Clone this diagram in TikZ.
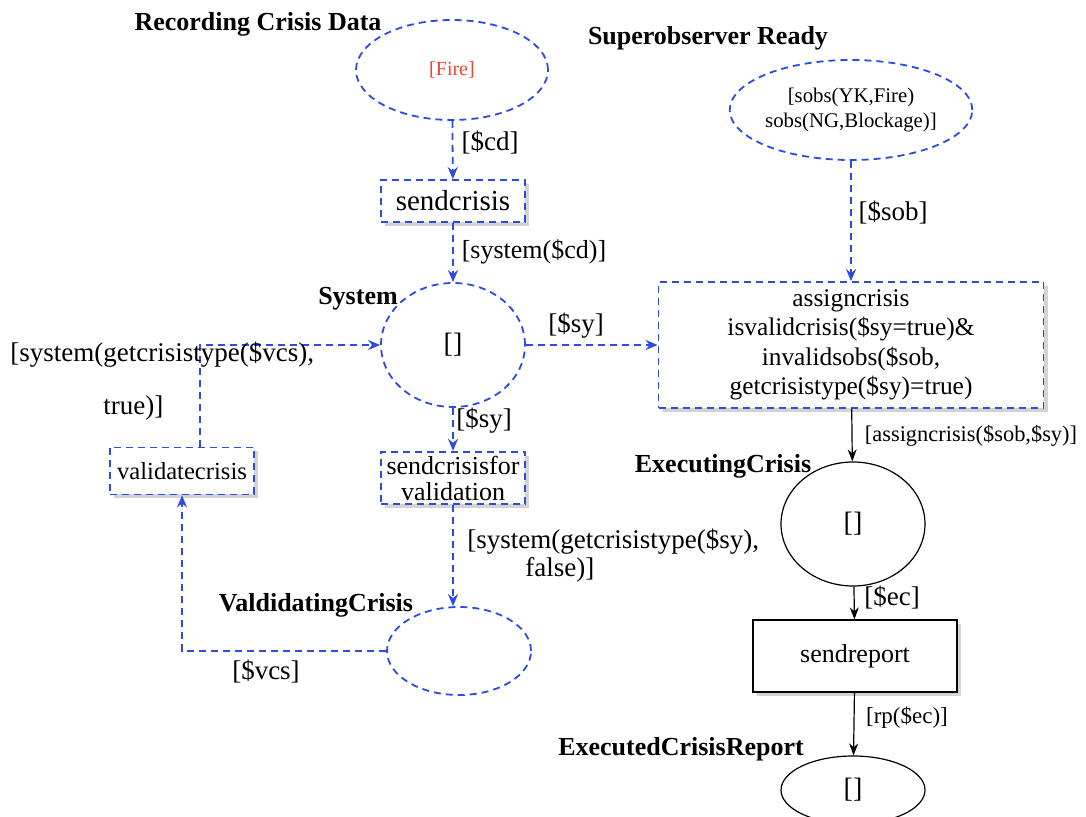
\documentclass[tikz,border=0pt]{standalone}
\usepackage{fontspec}
\setmainfont{Liberation Serif}
\usepackage{tikz}
\usetikzlibrary{arrows.meta}
\usetikzlibrary{shapes.geometric}
\usetikzlibrary{shadows}

\definecolor{NetBlue}{RGB}{45,75,225}
\definecolor{TokenRed}{RGB}{228,72,45}

\tikzset{
    bluedash/.style = {draw = NetBlue, dash pattern = on 3.5pt off 2.5pt, line width = 0.9pt},
    place/.style = {ellipse, draw, inner sep = 0pt},
    trans/.style = {rectangle, draw, fill = white, align = center, inner sep = 2pt,
        font = \fontsize{13}{14.75}\selectfont,
        drop shadow = {shadow xshift = 2pt, shadow yshift = -2pt, opacity = 0.35}},
    flow/.style = {NetBlue, dash pattern = on 3.5pt off 2.5pt, line width = 0.9pt,
        -{Stealth[length = 6pt, width = 5pt]}},
    arc/.style = {black, line width = 0.6pt, -{Stealth[length = 6pt, width = 4.5pt]}},
    lbl/.style = {inner sep = 0pt, font = \fontsize{13.5}{14}\selectfont},
    title/.style = {inner sep = 0pt, font = \bfseries\fontsize{13}{15}\selectfont}
}

\begin{document}
\begin{tikzpicture}[x = 0.5pt, y = -0.5pt]
    \useasboundingbox (0, 0) rectangle (1086, 817);

    % places
    \node [place, bluedash, minimum width = 96pt, minimum height = 50pt,
        font = \fontsize{10}{12}\selectfont, text = TokenRed] (fire) at (452, 70) {[Fire]};
    \node [place, bluedash, minimum width = 100pt, minimum height = 50pt, align = center,
        font = \fontsize{10.4}{12.5}\selectfont] (super) at (851, 110)
        {[sobs(YK,Fire)\\sobs(NG,Blockage)]};
    \node [place, bluedash, minimum width = 72pt, minimum height = 62pt,
        font = \fontsize{14}{16}\selectfont] (system) at (453, 345) {[]};
    \node [place, bluedash, minimum width = 72pt, minimum height = 44pt] (vd) at (459, 651) {};
    \node [place, line width = 0.6pt, minimum width = 72pt, minimum height = 62pt,
        font = \fontsize{14}{16}\selectfont] (exec) at (853, 524) {[]};
    \node [place, line width = 0.6pt, minimum width = 72pt, minimum height = 34pt,
        font = \fontsize{14}{16}\selectfont] (report) at (853, 790) {[]};

    % transitions
    \node [trans, bluedash, minimum width = 72pt, minimum height = 21pt,
        font = \fontsize{14.5}{16}\selectfont] (sendcrisis) at (453, 201) {sendcrisis};
    \node [trans, bluedash, minimum width = 192.5pt, minimum height = 63pt,
        font = \fontsize{12.7}{14.75}\selectfont] (assign) at (851, 345)
        {assigncrisis\\isvalidcrisis(\$sy=true)\&\\invalidsobs(\$sob,\\getcrisistype(\$sy)=true)};
    \node [trans, bluedash, minimum width = 72pt, minimum height = 23.5pt,
        font = \fontsize{13}{13}\selectfont] (sendval) at (453, 478) {sendcrisisfor\\validation};
    \node [trans, bluedash, minimum width = 72pt, minimum height = 23.5pt,
        font = \fontsize{12.3}{14}\selectfont] (validate) at (182, 471) {validatecrisis};
    \node [trans, line width = 0.6pt, minimum width = 102pt, minimum height = 36pt]
        (sendreport) at (855, 656) {sendreport};

    % place titles
    \node [title] (trecord) at (258, 24) {Recording Crisis Data};
    \node [title] (tsuper) at (708, 38) {Superobserver Ready};
    \node [title] (tsystem) at (358, 299) {System};
    \node [title] (tvd) at (316, 605) {ValdidatingCrisis};
    \node [title] (texec) at (723, 466) {ExecutingCrisis};
    \node [title] (treport) at (681, 749) {ExecutedCrisisReport};

    % arcs
    \draw [flow] (fire) -- (sendcrisis);
    \draw [flow] (sendcrisis) -- (system);
    \draw [flow] (system) -- (assign);
    \draw [flow] (super) -- (assign);
    \draw [flow] (system) -- (sendval);
    \draw [flow] (sendval.south) -- (sendval.south |- vd.north);
    \draw [flow] (vd.west) -| (validate.south);
    \draw [flow] ([xshift = 9pt] validate.north) |- (system.west);
    \draw [arc] (assign) -- (exec);
    \draw [arc] (exec) -- (sendreport);
    \draw [arc] (sendreport) -- (report);

    % arc inscriptions
    \node [lbl] (lcd) at (490, 143) {[\$cd]};
    \node [lbl, font = \fontsize{13}{14}\selectfont] (lsyscd) at (534, 252) {[system(\$cd)]};
    \node [lbl] (lsy) at (576, 326) {[\$sy]};
    \node [lbl] (lsob) at (893, 213) {[\$sob]};
    \node [lbl] (lsyval) at (484, 421) {[\$sy]};
    \node [lbl, anchor = west, align = left] (lgetsy) at (467, 556)
        {[system(getcrisistype(\$sy),\\\hspace*{29pt}false)]};
    \node [lbl, anchor = west, align = left] (lgetvcs) at (10, 381.5)
        {[system(getcrisistype(\$vcs),\\[12.5pt]\hspace*{46.5pt}true)]};
    \node [lbl] (lvcs) at (266, 672) {[\$vcs]};
    \node [lbl, font = \fontsize{11.2}{13}\selectfont] (lassign) at (971, 436) {[assigncrisis(\$sob,\$sy)]};
    \node [lbl] (lec) at (892, 598) {[\$ec]};
    \node [lbl, font = \fontsize{11.5}{13}\selectfont] (lrp) at (907, 718) {[rp(\$ec)]};
\end{tikzpicture}
\end{document}
